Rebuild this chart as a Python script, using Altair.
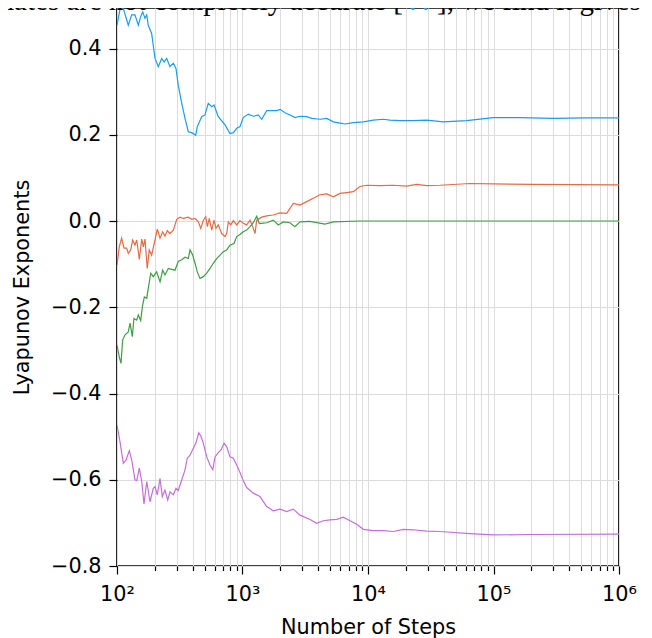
import altair as alt
import pandas as pd

# log10(number of steps) and exponent values
blue_log = [2.000,2.024,2.050,2.090,2.117,2.143,2.170,2.189,2.205,2.223,2.237,2.249,2.276,2.303,2.329,2.356,2.375,2.396,2.422,2.449,2.470,2.488,2.516,2.542,2.568,2.595,2.627,2.640,2.675,2.701,2.727,2.755,2.773,2.807,2.861,2.900,2.927,2.954,2.980,3.006,3.046,3.086,3.126,3.153,3.193,3.233,3.273,3.299,3.339,3.378,3.418,3.458,3.512,3.551,3.618,3.671,3.724,3.777,3.817,3.883,3.963,4.042,4.122,4.175,4.255,4.361,4.468,4.600,4.786,4.998,5.211,5.476,5.729,6.000]
blue_val = [0.454,0.491,0.493,0.454,0.478,0.478,0.454,0.474,0.485,0.470,0.478,0.454,0.435,0.377,0.358,0.377,0.369,0.377,0.358,0.366,0.354,0.315,0.273,0.238,0.207,0.205,0.199,0.219,0.242,0.246,0.273,0.265,0.269,0.242,0.223,0.203,0.205,0.215,0.219,0.240,0.248,0.243,0.246,0.236,0.256,0.256,0.256,0.259,0.251,0.246,0.240,0.243,0.242,0.238,0.236,0.238,0.230,0.227,0.225,0.228,0.230,0.234,0.236,0.234,0.233,0.233,0.234,0.230,0.233,0.240,0.240,0.238,0.239,0.239]

orange_log = [2.000,2.018,2.037,2.056,2.077,2.090,2.109,2.125,2.143,2.157,2.178,2.197,2.210,2.223,2.241,2.257,2.276,2.303,2.321,2.343,2.364,2.382,2.401,2.422,2.449,2.476,2.502,2.528,2.568,2.595,2.622,2.648,2.667,2.688,2.707,2.720,2.735,2.755,2.773,2.789,2.807,2.834,2.861,2.874,2.887,2.906,2.927,2.954,2.980,3.006,3.033,3.060,3.086,3.100,3.113,3.153,3.193,3.245,3.299,3.352,3.405,3.458,3.512,3.564,3.618,3.671,3.724,3.777,3.830,3.883,3.936,3.990,4.096,4.202,4.308,4.388,4.468,4.574,4.813,4.998,5.317,5.982,6.000]
orange_val = [-0.102,-0.060,-0.040,-0.063,-0.063,-0.075,-0.067,-0.044,-0.056,-0.044,-0.089,-0.042,-0.060,-0.042,-0.110,-0.067,-0.079,-0.044,-0.019,-0.040,-0.025,-0.035,-0.022,-0.029,-0.021,0.004,0.009,0.006,0.009,0.004,0.006,-0.002,-0.017,0.002,0.010,-0.013,0.006,-0.021,0.002,-0.017,-0.009,-0.029,-0.036,-0.029,-0.002,-0.009,0.001,-0.009,0.001,-0.005,-0.009,0.002,-0.017,-0.029,0.002,0.009,0.012,0.014,0.019,0.018,0.041,0.037,0.045,0.053,0.061,0.063,0.056,0.064,0.066,0.068,0.080,0.083,0.082,0.083,0.081,0.085,0.082,0.083,0.087,0.086,0.085,0.084,0.084]

green_log = [2.000,2.018,2.032,2.045,2.064,2.090,2.104,2.122,2.135,2.157,2.170,2.189,2.202,2.218,2.237,2.249,2.269,2.289,2.316,2.343,2.364,2.382,2.409,2.436,2.462,2.488,2.516,2.542,2.568,2.582,2.603,2.622,2.640,2.661,2.688,2.715,2.741,2.767,2.794,2.821,2.847,2.874,2.900,2.932,2.954,2.980,3.006,3.033,3.060,3.086,3.113,3.134,3.166,3.193,3.245,3.285,3.325,3.378,3.418,3.458,3.538,3.657,3.724,3.936,4.653,6.000]
green_val = [-0.288,-0.315,-0.330,-0.276,-0.264,-0.257,-0.237,-0.268,-0.226,-0.230,-0.218,-0.231,-0.199,-0.176,-0.179,-0.156,-0.121,-0.129,-0.118,-0.141,-0.114,-0.125,-0.110,-0.112,-0.114,-0.094,-0.090,-0.084,-0.087,-0.067,-0.079,-0.098,-0.118,-0.133,-0.129,-0.121,-0.110,-0.098,-0.087,-0.079,-0.071,-0.067,-0.056,-0.052,-0.036,-0.031,-0.025,-0.021,-0.013,-0.004,0.011,-0.006,-0.005,-0.004,0.002,-0.009,-0.002,-0.004,-0.013,-0.002,-0.001,-0.007,-0.002,0.000,0.000,0.000]

purple_log = [2.000,2.024,2.050,2.072,2.098,2.117,2.143,2.157,2.178,2.197,2.215,2.237,2.263,2.289,2.303,2.321,2.343,2.361,2.382,2.404,2.422,2.449,2.470,2.488,2.516,2.542,2.560,2.582,2.608,2.629,2.651,2.667,2.688,2.715,2.741,2.763,2.781,2.807,2.829,2.853,2.874,2.900,2.927,2.954,2.980,3.006,3.033,3.086,3.139,3.193,3.245,3.299,3.352,3.405,3.458,3.538,3.591,3.644,3.697,3.751,3.803,3.857,3.910,3.963,4.042,4.122,4.202,4.281,4.361,4.468,4.574,4.813,4.998,5.291,6.000]
purple_val = [-0.473,-0.512,-0.562,-0.554,-0.533,-0.554,-0.600,-0.602,-0.573,-0.604,-0.656,-0.604,-0.651,-0.620,-0.616,-0.635,-0.597,-0.639,-0.624,-0.647,-0.628,-0.635,-0.620,-0.625,-0.600,-0.577,-0.550,-0.543,-0.527,-0.515,-0.491,-0.498,-0.515,-0.547,-0.566,-0.577,-0.547,-0.537,-0.531,-0.515,-0.523,-0.547,-0.550,-0.566,-0.583,-0.602,-0.618,-0.631,-0.639,-0.662,-0.672,-0.668,-0.674,-0.668,-0.682,-0.692,-0.701,-0.695,-0.693,-0.692,-0.687,-0.695,-0.703,-0.715,-0.718,-0.718,-0.720,-0.715,-0.716,-0.719,-0.720,-0.725,-0.728,-0.727,-0.726]

series_names = ["λ1", "λ2", "λ3", "λ4"]
series_colors = ["#1a9cf0", "#e56b44", "#3c9f46", "#c46fd8"]
x_ticks = [m * 10 ** k for k in range(2, 6) for m in range(1, 10)] + [10 ** 6]
y_ticks = [-0.8, -0.6, -0.4, -0.2, 0.0, 0.2, 0.4]
top_text = ["mates are not completely accurate [", "??", "], we find it gives"]

frames = []
for name, lx, vy in zip(series_names,
                        [blue_log, orange_log, green_log, purple_log],
                        [blue_val, orange_val, green_val, purple_val]):
    assert len(lx) == len(vy), name
    frames.append(pd.DataFrame({"steps": [10 ** v for v in lx], "value": vy, "series": name}))
df = pd.concat(frames, ignore_index=True)

is_major = "abs(log(datum.value)/LN10 - round(log(datum.value)/LN10)) < 0.000001"
sup = "['⁰','¹','²','³','⁴','⁵','⁶']"
label_x = f"({is_major}) ? '10' + {sup}[round(log(datum.value)/LN10)] : ''"

FS = 20.8

lines = alt.Chart(df).mark_line(strokeWidth=1.2, clip=True).encode(
    x=alt.X("steps:Q",
            scale=alt.Scale(type="log", domain=[100, 1e6], nice=False),
            axis=alt.Axis(values=x_ticks, title="Number of Steps", labelExpr=label_x,
                          labelFlush=False, labelOverlap=False,
                          grid=True, gridColor="#dcdcdc", gridWidth=1,
                          domain=False, tickColor="black", tickWidth=1.2,
                          tickSize={"condition": {"test": is_major, "value": 8}, "value": 4.5},
                          labelFontSize=FS, labelFont="DejaVu Sans", labelColor="black",
                          labelPadding=10,
                          titleFont="DejaVu Sans", titleFontSize=FS, titleFontWeight="normal",
                          titleColor="black", titlePadding=14)),
    y=alt.Y("value:Q",
            scale=alt.Scale(domain=[-0.8, 0.494], nice=False, zero=False),
            axis=alt.Axis(values=y_ticks, title="Lyapunov Exponents",
                          labelExpr="replace(format(datum.value, '.1f'), '-', '−')",
                          grid=True, gridColor="#dcdcdc", gridWidth=1,
                          domain=False, tickColor="black", tickWidth=1.2, tickSize=8,
                          labelFontSize=FS, labelFont="DejaVu Sans", labelColor="black",
                          labelPadding=8,
                          titleFont="DejaVu Sans", titleFontSize=FS, titleFontWeight="normal",
                          titleColor="black", titlePadding=18)),
    color=alt.Color("series:N", scale=alt.Scale(domain=series_names, range=series_colors), legend=None),
)

txt1 = alt.Chart(pd.DataFrame({"t": [top_text[0]]})).mark_text(
    font="Liberation Serif", fontSize=29, align="right", baseline="alphabetic", color="black", clip=False
).encode(text="t:N", x=alt.value(286), y=alt.value(2))
txt2 = alt.Chart(pd.DataFrame({"t": [top_text[1]]})).mark_text(
    font="Liberation Serif", fontSize=29, align="left", baseline="alphabetic", color="#1a9cf0", clip=False
).encode(text="t:N", x=alt.value(290), y=alt.value(2))
txt3 = alt.Chart(pd.DataFrame({"t": [top_text[2]]})).mark_text(
    font="Liberation Serif", fontSize=29, align="left", baseline="alphabetic", color="black", clip=False
).encode(text="t:N", x=alt.value(320), y=alt.value(2))

chart = alt.layer(lines, txt1, txt2, txt3).properties(
    width=502, height=558,
    autosize=alt.AutoSizeParams(type="none"),
    padding={"left": 109, "top": 0, "right": 25, "bottom": 72},
).configure(background="white").configure_view(stroke="black", strokeWidth=1.7)

chart.save("out.html", embed_options={"renderer": "svg", "actions": False})
